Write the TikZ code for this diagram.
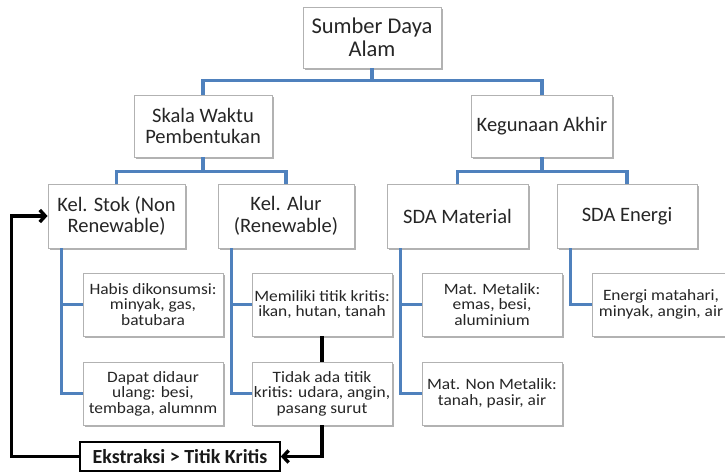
\documentclass[tikz,border=0pt]{standalone}
\usepackage{fontspec}
\setmainfont{Carlito}
\newfontfamily\smallf[FakeStretch=1.1]{Carlito}
\usetikzlibrary{shadows,arrows.meta}
\definecolor{conblue}{RGB}{79,129,189}
\begin{document}
\begin{tikzpicture}[x=1pt,y=-1pt,
  box/.style={draw=gray!60, fill=white, line width=0.9pt, align=center, text=black!85, inner sep=1pt,
    drop shadow={shadow xshift=1.5pt, shadow yshift=-1.8pt, fill=black, opacity=0.3}},
  sz/.style 2 args={minimum width=#1pt, minimum height=#2pt},
  rootbox/.style={box, font=\fontsize{22.5}{23}\selectfont},
  midbox/.style={box, font=\fontsize{20.5}{21.5}\selectfont},
  leafbox/.style={box, font=\smallf\fontsize{15.8}{15.5}\selectfont},
  keybox/.style={draw=black, fill=white, line width=1.6pt, text=black!90, inner sep=1pt, font=\bfseries\fontsize{20}{20}\selectfont},
  blueline/.style={draw=conblue, line width=3.6pt},
  blackline/.style={draw=black, line width=3.4pt},
  arr/.style={-{Straight Barb[length=5.5pt,width=12pt]}}
]
\useasboundingbox (0,0) rectangle (725,472);
\clip (0,0) rectangle (725,472);

\node[rootbox, sz={138}{61}] (root) at (372,37.5) {Sumber Daya\\Alam};
\node[midbox, sz={138}{62}] (skala) at (203,126) {Skala Waktu\\Pembentukan};
\node[midbox, sz={141}{62}] (guna) at (542,126) {Kegunaan Akhir};

\node[midbox, sz={137}{64}] (stok) at (116.5,216) {Kel. Stok (Non\\Renewable)};
\node[midbox, sz={136}{64}] (alur) at (286,216) {Kel. Alur\\(Renewable)};
\node[midbox, sz={141}{64}] (mat) at (457.5,216) {SDA Material};
\node[midbox, sz={140}{64}] (ene) at (627,216) {SDA Energi};

\node[leafbox, sz={140}{63}] (habis) at (153,304.5) {Habis dikonsumsi:\\minyak, gas,\\batubara};
\node[leafbox, sz={140}{63}] (daur) at (153,393.5) {Dapat didaur\\ulang: besi,\\tembaga, alumnm};
\node[leafbox, sz={140}{63}] (kritis) at (322,304.5) {Memiliki titik kritis:\\ikan, hutan, tanah};
\node[leafbox, sz={140}{63}] (tidak) at (322,393.5) {Tidak ada titik\\kritis: udara, angin,\\pasang surut};
\node[leafbox, sz={140}{63}] (metal) at (492,304.5) {Mat. Metalik:\\emas, besi,\\aluminium};
\node[leafbox, sz={140}{63}] (nonmetal) at (492,393.5) {Mat. Non Metalik:\\tanah, pasir, air};
\node[leafbox, sz={138}{63}] (surya) at (661,304.5) {Energi matahari,\\minyak, angin, air};

\node[keybox, sz={200}{29}] (ekst) at (180,456.5) {Ekstraksi > Titik Kritis};

% blue tree connectors
\draw[blueline] (root.south) -- ++(0,12) coordinate (r1) -| (skala.north);
\draw[blueline] (r1) -| (guna.north);
\draw[blueline] (skala.south) -- ++(0,14) coordinate (s1) -| (stok.north);
\draw[blueline] (s1) -| (alur.north);
\draw[blueline] (guna.south) -- ++(0,14) coordinate (g1) -| (mat.north);
\draw[blueline] (g1) -| (ene.north);

\draw[blueline] ([xshift=14pt]stok.south west) |- (daur.west);
\draw[blueline] ([xshift=14pt]stok.south west) |- (habis.west);
\draw[blueline] ([xshift=14pt]alur.south west) |- (tidak.west);
\draw[blueline] ([xshift=14pt]alur.south west) |- (kritis.west);
\draw[blueline] ([xshift=14pt]mat.south west) |- (nonmetal.west);
\draw[blueline] ([xshift=14pt]mat.south west) |- (metal.west);
\draw[blueline] ([xshift=14pt]ene.south west) |- (surya.west);

% black feedback connectors
\draw[blackline] (kritis.south) -- (tidak.north);
\draw[blackline, arr] (tidak.south) |- (ekst.east);
\draw[blackline, arr] (ekst.west) -- ++(-68,0) |- (stok.west);
\end{tikzpicture}
\end{document}
